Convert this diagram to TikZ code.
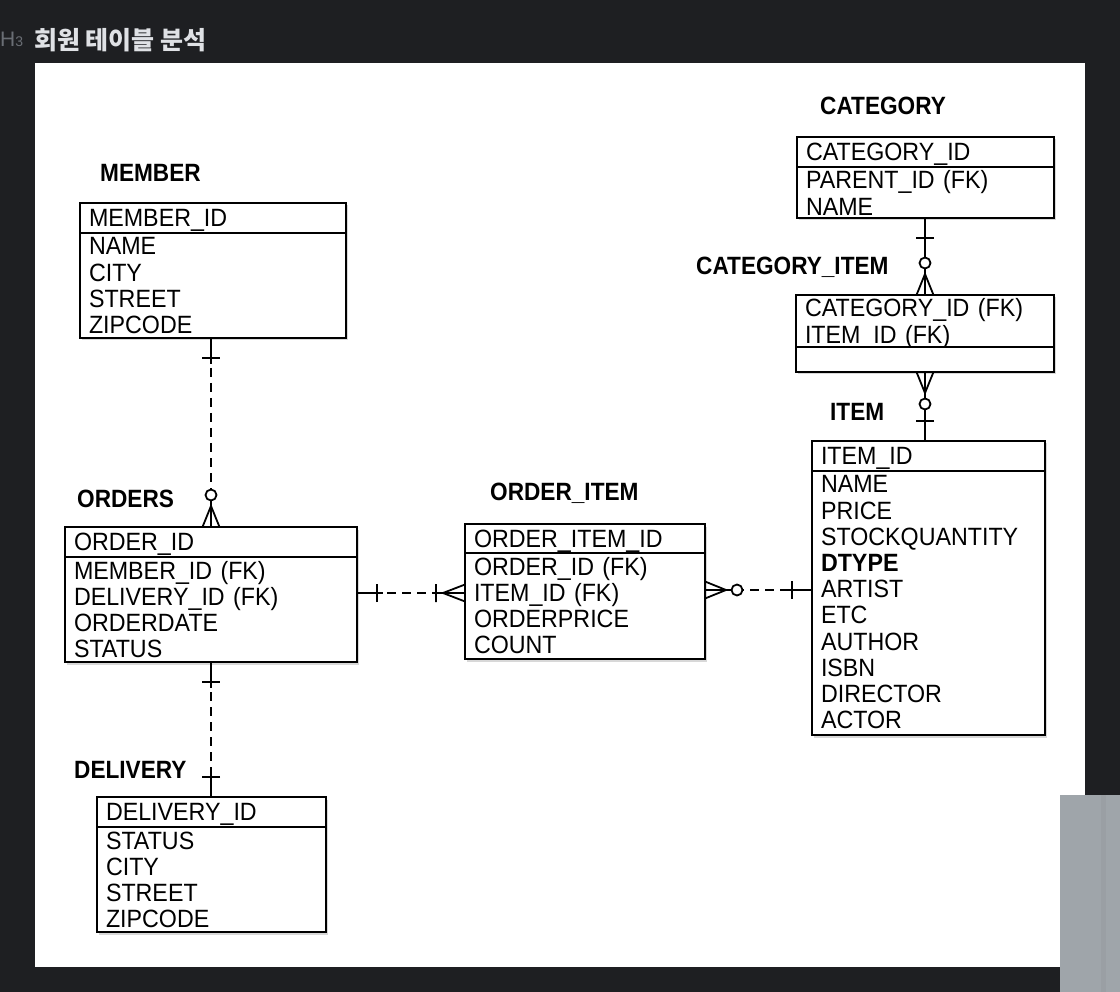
\documentclass[tikz,border=0pt]{standalone}
\usepackage{fontspec}
\setmainfont{Liberation Sans}
\newfontfamily\tblfont[FakeStretch=0.93]{Liberation Sans}
\newfontfamily\ttlfont[FakeStretch=0.905]{Liberation Sans}
\newfontfamily\krfont{Noto Sans CJK KR}
\usetikzlibrary{positioning, shadows}

\definecolor{bgdark}{HTML}{1E1F22}
\definecolor{headtext}{HTML}{DFE1E5}
\definecolor{hgray}{HTML}{6A6E75}
\definecolor{blockgray}{HTML}{9FA5AA}

\begin{document}
\begin{tikzpicture}[x=1pt, y=-1pt]
    % settings can be global or per picture
    \tikzset{
      rel/.style={line width=1.8pt, line join=round},
      nonid/.style={rel, dash pattern=on 9pt off 6pt},
      tbl/.style={draw, line width=1.8pt, fill=white, outer sep=0pt,
        inner xsep=9pt, inner ysep=0pt, align=left,
        font=\tblfont\fontsize{25}{26.2}\selectfont,
        drop shadow={opacity=0.3, shadow xshift=1.5pt, shadow yshift=-2.5pt}},
      head/.style={tbl, text width=#1, minimum height=30pt,
        text height=17.9pt, text depth=0pt},
      rows/.style 2 args={tbl, text width=#1, text height=22pt, text depth=#2},
      title/.style={anchor=base west, inner sep=0pt,
        font=\ttlfont\bfseries\fontsize{25}{27}\selectfont},
      one/.pic={\draw[rel] (0,0) -- (-26,0) (-20,-9) -- (-20,9);},
      zeromany/.pic={\draw[rel] (0,-8.5) -- (-21,0) -- (0,8.5) (0,0) -- (-27,0);
        \draw[rel, fill=white] (-32,0) circle (5.5);},
      onemany/.pic={\draw[rel] (0,-8.5) -- (-22,0) -- (0,8.5) (0,0) -- (-32,0)
        (-29,-9) -- (-29,9);},
    }

    % page
    \useasboundingbox (0,0) rectangle (1120,992);
    \fill[bgdark] (0,0) rectangle (1120,992);
    \fill[white] (35,63) rectangle (1085,967);
    \fill[blockgray] (1060,795) rectangle (1120,992);
    \fill[blockgray!90!black, opacity=0.3] (1101,795) rectangle (1106,992);
    \node[anchor=base west, inner sep=0pt, text=hgray,
          font=\fontsize{21}{21}\selectfont] (h3) at (0,47)
          {H{\fontsize{14}{14}\selectfont 3}};
    \node[anchor=base west, inner sep=0pt, text=headtext,
          font=\krfont\bfseries\fontsize{25}{25}\selectfont] (heading) at (34,50)
          {회원 테이블 분석};

    % tables
    \node[title] at (100,182) {MEMBER};
    \node[head=248pt, anchor=north west] (memberH) at (80,203) {MEMBER\_ID};
    \node[rows={248pt}{83pt}, below=0pt of memberH] (memberB)
          {NAME\\CITY\\STREET\\ZIPCODE};

    \node[title] at (77,507.5) {ORDERS};
    \node[head=274pt, anchor=north west] (ordersH) at (65,527) {ORDER\_ID};
    \node[rows={274pt}{83pt}, below=0pt of ordersH] (ordersB)
          {MEMBER\_ID (FK)\\DELIVERY\_ID (FK)\\ORDERDATE\\STATUS};

    \node[title] at (74,778) {DELIVERY};
    \node[head=211pt, anchor=north west] (delivH) at (97,797) {DELIVERY\_ID};
    \node[rows={211pt}{83pt}, below=0pt of delivH] (delivB)
          {STATUS\\CITY\\STREET\\ZIPCODE};

    \node[title] at (490,500.5) {ORDER\_ITEM};
    \node[head=222pt, minimum height=29pt, anchor=north west] (oiH) at (465,524)
          {ORDER\_ITEM\_ID};
    \node[rows={222pt}{84pt}, below=0pt of oiH] (oiB)
          {ORDER\_ID (FK)\\ITEM\_ID (FK)\\ORDERPRICE\\COUNT};

    \node[title] at (820,115) {CATEGORY};
    \node[head=239pt, anchor=north west] (catH) at (797,137) {CATEGORY\_ID};
    \node[rows={239pt}{29pt}, below=0pt of catH] (catB)
          {PARENT\_ID (FK)\\NAME};

    \node[title] at (696,274.5) {CATEGORY\_ITEM};
    \node[rows={240pt}{30pt}, anchor=north west] (ciH) at (796,295)
          {CATEGORY\_ID (FK)\\ITEM\_ID (FK)};
    \node[tbl, text width=240pt, minimum height=25pt, below=0pt of ciH] (ciB) {};

    \node[title] at (830,420.5) {ITEM};
    \node[head=215pt, anchor=north west] (itemH) at (812,441) {ITEM\_ID};
    \node[rows={215pt}{242pt}, below=0pt of itemH] (itemB)
          {NAME\\PRICE\\STOCKQUANTITY\\\textbf{DTYPE}\\ARTIST\\ETC\\AUTHOR\\ISBN\\DIRECTOR\\ACTOR};

    % relations
    \coordinate (oiL) at ([yshift=13pt]oiB.west);
    \coordinate (oiR) at ([yshift=16pt]oiB.east);

    \draw[nonid] (memberB.south -| ordersH.north) -- (ordersH.north);
    \draw[nonid] (ordersB.south) -- (delivH.north -| ordersB.south);
    \draw[nonid] (oiL -| ordersB.east) -- (oiL);
    \draw[nonid] (oiR) -- (oiR -| itemB.west);
    \draw[rel] (ciH.north |- catB.south) -- (ciH.north);
    \draw[rel] (ciB.south) -- (itemH.north -| ciB.south);

    \pic[rotate=90] at (memberB.south -| ordersH.north) {one};
    \pic[rotate=-90] at (ordersH.north) {zeromany};
    \pic[rotate=90] at (ordersB.south) {one};
    \pic[rotate=-90] at (delivH.north -| ordersB.south) {one};
    \pic[rotate=180] at (oiL -| ordersB.east) {one};
    \pic at (oiL) {onemany};
    \pic[rotate=180] at (oiR) {zeromany};
    \pic at (oiR -| itemB.west) {one};
    \pic[rotate=90] at (ciH.north |- catB.south) {one};
    \pic[rotate=-90] at (ciH.north) {zeromany};
    \pic[rotate=90] at (ciB.south) {zeromany};
    \pic[rotate=-90] at (itemH.north -| ciB.south) {one};

  \end{tikzpicture}
\end{document}
